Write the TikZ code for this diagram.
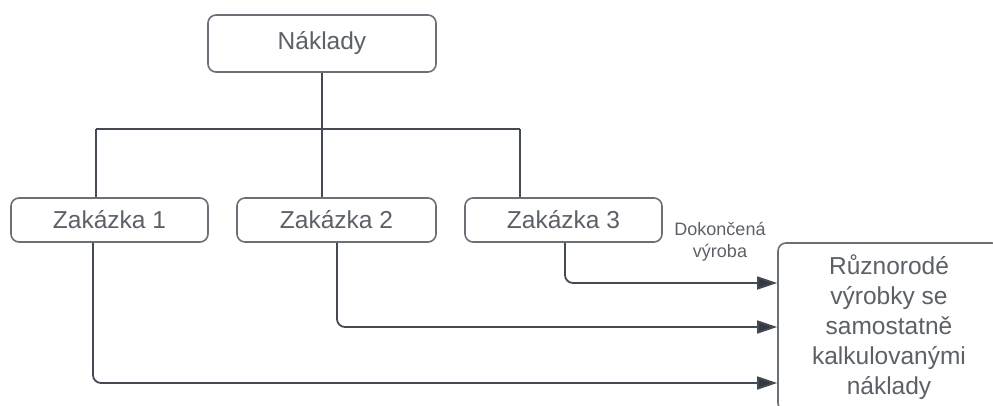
\documentclass[tikz,border=0pt]{standalone}
\usepackage{fontspec}
\setmainfont{Liberation Sans}
\usetikzlibrary{arrows.meta,calc}
\definecolor{txtgray}{HTML}{5C6068}
\definecolor{boxgray}{HTML}{6A6F78}
\definecolor{linegray}{HTML}{454B55}
\definecolor{tipgray}{HTML}{343A44}
\tikzset{
  box/.style={draw=boxgray, line width=1.6pt, rounded corners=8pt, fill=white,
    text=txtgray, font=\fontsize{24.5}{30}\selectfont, inner sep=0pt, align=center},
  conn/.style={draw=linegray, line width=1.8pt},
  arr/.style={conn, rounded corners=8pt, -{Triangle[length=20pt,width=13pt,fill=tipgray]}},
  lbl/.style={text=txtgray, font=\fontsize{18}{22}\selectfont, align=center, inner sep=0pt}
}
\begin{document}
\begin{tikzpicture}[x=1pt,y=-1pt]
\useasboundingbox (0,0) rectangle (993,405);
\node[box, minimum width=228pt, minimum height=57pt] (nak) at (322,43.5) {Náklady};
\node[box, minimum width=197pt, minimum height=44pt] (z1) at (109.5,220) {Zakázka 1};
\node[box, minimum width=199pt, minimum height=44pt] (z2) at (336.5,220) {Zakázka 2};
\node[box, minimum width=197pt, minimum height=44pt] (z3) at (563.5,220) {Zakázka 3};
\node[box, minimum width=222pt, minimum height=168pt] (out) at (889,327)
  {Různorodé\\výrobky se\\samostatně\\kalkulovanými\\náklady};
\node[lbl] (lab) at (720,242) {Dokončená\\výroba};
\coordinate (b1) at (96,129);
\coordinate (b2) at (322,129);
\coordinate (b3) at (520,129);
\coordinate (s1) at (93,0);
\coordinate (s2) at (337,0);
\coordinate (s3) at (565,0);
\path (out.west) ++(0,56) coordinate (r1);
\path (out.west) coordinate (r2);
\path (out.west) ++(0,-44) coordinate (r3);
\draw[conn] (nak.south) -- (b2);
\draw[conn] (b1) -- (b3);
\draw[conn] (b1) -- (b1 |- z1.north);
\draw[conn] (b2) -- (b2 |- z2.north);
\draw[conn] (b3) -- (b3 |- z3.north);
\draw[arr] (s1 |- z1.south) |- (r1);
\draw[arr] (s2 |- z2.south) |- (r2);
\draw[arr] (s3 |- z3.south) |- (r3);
\end{tikzpicture}
\end{document}
